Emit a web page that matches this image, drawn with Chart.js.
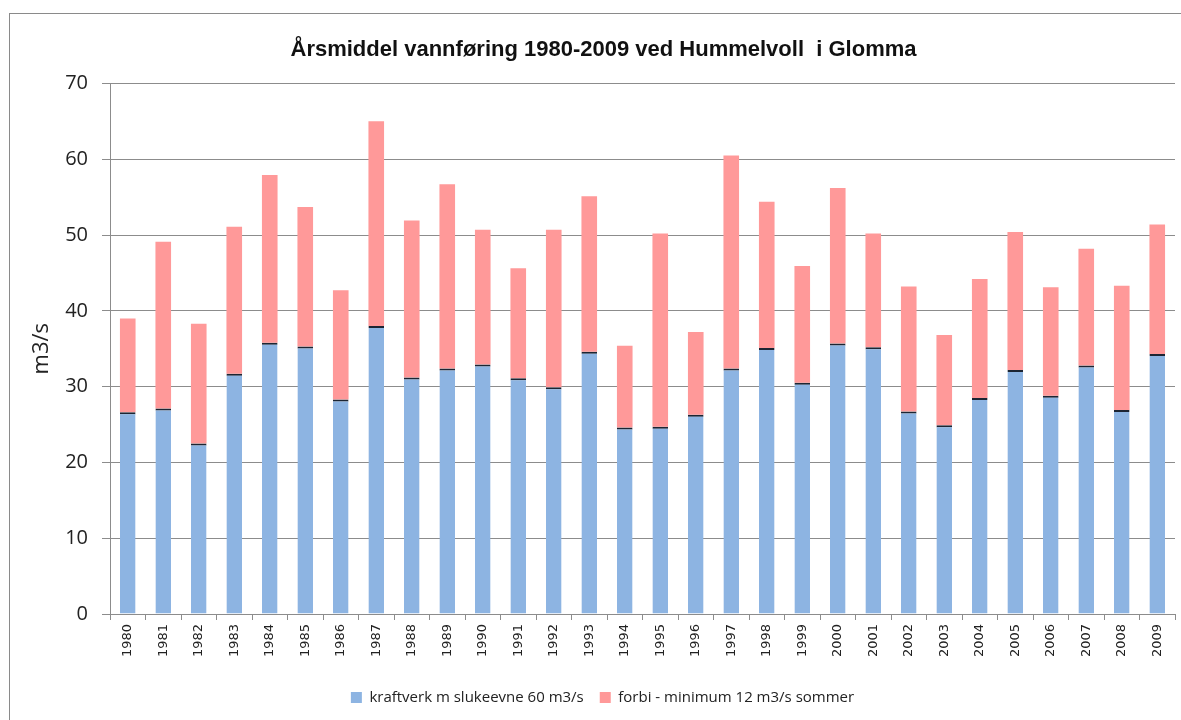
<!DOCTYPE html>
<html><head><meta charset="utf-8">
<script src="https://cdn.jsdelivr.net/npm/chart.js@4"></script>
<style>
html,body{margin:0;padding:0;background:#fff;}
#wrap{position:relative;width:1181px;height:720px;overflow:hidden;}
#frame{position:absolute;left:9px;top:13px;width:1200px;height:800px;border:1px solid #8a8a8a;}
canvas{position:absolute;left:0;top:0;}
</style></head><body>
<div id="wrap"><div id="frame"></div><canvas id="c" width="1181" height="720"></canvas></div>
<script>
const years = ['1980','1981','1982','1983','1984','1985','1986','1987','1988','1989','1990','1991','1992','1993','1994','1995','1996','1997','1998','1999','2000','2001','2002','2003','2004','2005','2006','2007','2008','2009'];
const kraftverk = [26.6,27.1,22.5,31.7,35.8,35.3,28.3,38.0,31.2,32.4,32.9,31.1,29.9,34.6,24.6,24.7,26.3,32.4,35.1,30.5,35.7,35.2,26.7,24.9,28.5,32.2,28.8,32.8,26.9,34.3];
const forbi = [12.4,22.0,15.8,19.4,22.1,18.4,14.4,27.0,20.7,24.3,17.8,14.5,20.8,20.5,10.8,25.5,10.9,28.1,19.3,15.4,20.5,15.0,16.5,11.9,15.7,18.2,14.3,15.4,16.4,17.1];
const yMin = 0, yMax = 70, yStep = 10;
const titleText = 'Årsmiddel vannføring 1980-2009 ved Hummelvoll  i Glomma';
const seriesNames = ['kraftverk m slukeevne 60 m3/s', 'forbi - minimum 12 m3/s sommer'];

const gridColor = '#8c8c8c';
const shiftPlugin = {
  id: 'shift',
  afterLayout(chart) {
    if (chart.titleBlock) { chart.titleBlock.left += 10; chart.titleBlock.right += 10; }
    if (chart.legend) { chart.legend.left += 9; chart.legend.right += 9; }
  }
};

new Chart(document.getElementById('c'), {
  type: 'bar',
  data: {
    labels: years,
    datasets: [
      { label: seriesNames[0], data: kraftverk, backgroundColor: '#8DB4E2',
        borderColor: '#1c2533', borderWidth: {top: 2, left: 0, right: 0, bottom: 0}, borderSkipped: false,
        barPercentage: 0.44, categoryPercentage: 1 },
      { label: seriesNames[1], data: forbi, backgroundColor: '#FF9999',
        borderWidth: 0, barPercentage: 0.44, categoryPercentage: 1 }
    ]
  },
  options: {
    responsive: false,
    animation: false,
    layout: { padding: { top: 13, left: 12, right: 6, bottom: 5 } },
    plugins: {
      title: { display: true, text: titleText, color: '#111',
        font: { family: 'Liberation Sans', size: 22, weight: 'bold' },
        padding: { top: 24, bottom: 20 } },
      legend: { position: 'bottom',
        labels: { boxWidth: 11, boxHeight: 11, padding: 16, color: '#222',
          font: { family: 'Open Sans', size: 15 },
          generateLabels: (chart) => Chart.defaults.plugins.legend.labels.generateLabels(chart).map(l => ({...l, lineWidth: 0, strokeStyle: 'rgba(0,0,0,0)'})) } },
      tooltip: { enabled: false }
    },
    scales: {
      x: { stacked: true,
        grid: { drawOnChartArea: false, drawTicks: true, tickLength: 6, color: gridColor, offset: true },
        border: { display: true, color: gridColor },
        ticks: { minRotation: 90, maxRotation: 90, autoSkip: false, padding: 4, color: '#222',
          font: { family: 'DejaVu Sans', size: 13 } },
        afterFit: (s) => { s.height = 60; } },
      y: { stacked: true, min: yMin, max: yMax,
        grid: { color: gridColor, tickLength: 8 },
        border: { display: true, color: gridColor },
        ticks: { stepSize: yStep, padding: 14, color: '#222', font: { family: 'Open Sans', size: 20 } },
        title: { display: true, text: 'm3/s', color: '#222', font: { family: 'Open Sans', size: 22 }, padding: { top: 17, bottom: 0 } },
        afterFit: (s) => { s.width = 98; } }
    }
  },
  plugins: [shiftPlugin]
});
</script>
</body></html>
